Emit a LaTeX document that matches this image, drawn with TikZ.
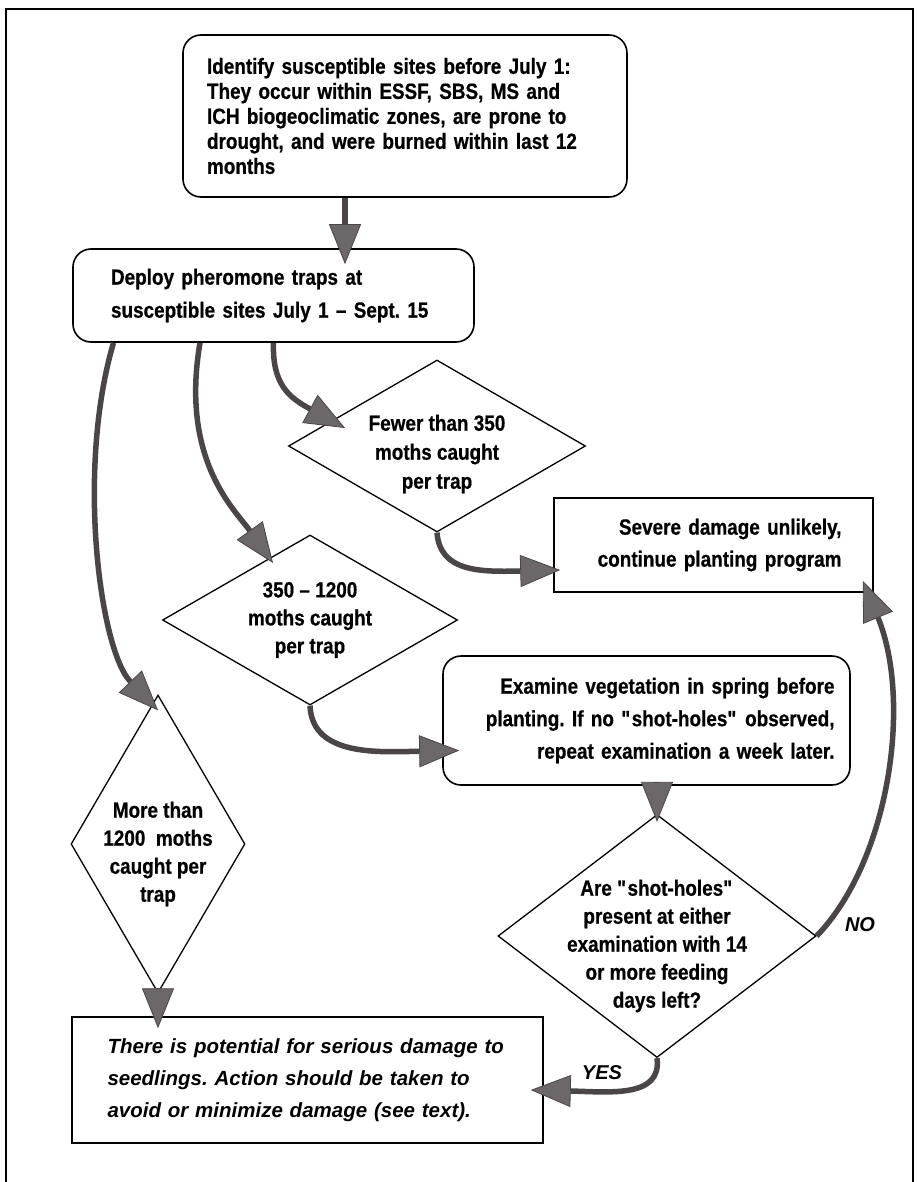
\documentclass[tikz,border=0pt]{standalone}
\usepackage{fontspec}
\setmainfont{Liberation Sans}
\newfontfamily\condfont{Liberation Sans}[FakeStretch=0.86,FakeBold=0.6]
\usetikzlibrary{arrows.meta,calc,shapes.geometric}
\definecolor{Shaft}{HTML}{4A4647}
\definecolor{Head}{HTML}{6C6869}
\frenchspacing

\begin{document}
\begin{tikzpicture}[x=1pt,y=-1pt,
    txt/.style={font=\condfont\bfseries\fontsize{22}{#1}\selectfont},
    txt/.default=28,
    roundbox/.style={draw,line width=1.6pt,rounded corners=18pt,inner sep=0pt},
    plainbox/.style={draw,line width=1.5pt,inner sep=0pt},
    choice/.style={diamond,draw,line width=1.3pt,inner sep=0pt},
    flow/.style={-{Triangle[length=40pt,width=32pt,fill=Head,line width=0.8pt]},line width=5.5pt,draw=Shaft},
    tag/.style={font=\bfseries\itshape\fontsize{20}{24}\selectfont}
]
\useasboundingbox (0,0) rectangle (916,1182);
\draw[line width=1.4pt] (6,1182) -- (6,9) -- (913,9) -- (913,1182);

\node[roundbox,txt=25,align=left,text width=396pt,minimum width=444pt,minimum height=162pt] (ident) at (405,116)
  {Identify susceptible sites before July 1:\\They occur within ESSF, SBS, MS and\\ICH biogeoclimatic zones, are prone to\\drought, and were burned within last 12\\months};
\node[roundbox,txt=33,align=left,text width=325pt,minimum width=401pt,minimum height=93pt] (deploy) at (273.5,295.5)
  {Deploy pheromone traps at\\susceptible sites July 1 – Sept. 15};
\node[choice,minimum width=297pt,minimum height=172pt,
  label={[txt=29,align=center,yshift=-8pt]center:{Fewer than 350\\moths caught\\per trap}}] (few) at (437,446) {};
\node[plainbox,txt=32,align=right,text width=256pt,minimum width=319pt,minimum height=94pt] (unlikely) at (713.5,545)
  {Severe damage unlikely,\\continue planting program};
\node[choice,minimum width=295pt,minimum height=170pt,
  label={[txt,align=center]center:{350 – 1200\\moths caught\\per trap}}] (mid) at (310,620) {};
\node[choice,minimum width=174pt,minimum height=298pt,
  label={[txt,align=center,yshift=-10pt]center:{More than\\1200\ \ moths\\caught per\\trap}}] (many) at (158,844) {};
\node[roundbox,txt=32.5,align=right,text width=376pt,minimum width=407pt,minimum height=129pt] (examine) at (646.5,720.5)
  {Examine vegetation in spring before\\planting. If no \textquotedbl shot-holes\textquotedbl\ observed,\\repeat examination a week later.};
\node[choice,minimum width=318pt,minimum height=243pt,
  label={[txt,align=center,yshift=-10pt]center:{Are \textquotedbl shot-holes\textquotedbl\\present at either\\examination with 14\\or more feeding\\days left?}}] (holes) at (657,936) {};
\node[plainbox,font=\bfseries\itshape\fontsize{20.5}{32}\selectfont,align=left,text width=400pt,minimum width=471pt,minimum height=126pt] (damage) at (307.5,1080)
  {There is potential for serious damage to\\seedlings. Action should be taken to\\avoid or minimize damage (see text).};
\node[tag] (no) at (860,925) {NO};
\node[tag] (yes) at (602,1073) {YES};

\draw[flow] ([xshift=-60pt]ident.south) -- ([xshift=71.5pt,yshift=-16pt]deploy.north);
\draw[flow] ([xshift=-160pt]deploy.south) .. controls (76,470) and (100,650) .. ([yshift=-16pt]many.north);
\draw[flow] ([xshift=-73.5pt]deploy.south) .. controls (180,460) and (235,510) .. ($(mid.center)+(-37,-57)$);
\draw[flow] (deploy.south) .. controls (272,385) and (290,398) .. ($(few.center)+(-92,-18)$);
\draw[flow] (few.south) .. controls (440,572) and (480,572) .. ($(unlikely.west)+(7,25)$);
\draw[flow] (mid.south) .. controls (312,757) and (380,752) .. ($(examine.west)+(17,30)$);
\draw[flow] (many.south) -- ([yshift=-12pt]many.south |- damage.north);
\draw[flow] (examine.south -| holes.north) -- ([yshift=-8pt]holes.north);
\draw[flow] (holes.south) .. controls (662,1098) and (610,1092) .. ($(damage.east)+(-13,10)$);
\draw[flow] (holes.east) .. controls (890,860) and (912,700) .. ($(unlikely.south east)+(-11,-12)$);
\end{tikzpicture}
\end{document}
